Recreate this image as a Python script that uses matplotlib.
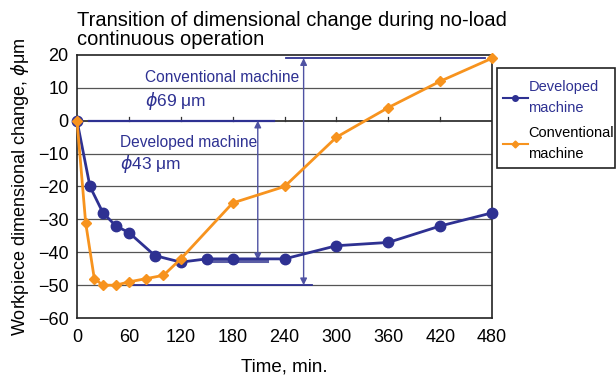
import matplotlib
matplotlib.use("Agg")
import matplotlib.pyplot as plt
from matplotlib.patches import Rectangle

plt.rcParams['font.family'] = ['Liberation Sans', 'DejaVu Sans']
plt.rcParams['mathtext.fontset'] = 'dejavusans'

# Data
dev_t = [0, 15, 30, 45, 60, 90, 120, 150, 180, 240, 300, 360, 420, 480]
dev_v = [0, -20, -28, -32, -34, -41, -43, -42, -42, -42, -38, -37, -32, -28]
conv_t = [0, 10, 20, 30, 45, 60, 80, 100, 120, 180, 240, 300, 360, 420, 480]
conv_v = [0, -31, -48, -50, -50, -49, -48, -47, -42, -25, -20, -5, 4, 12, 19]
xticks = [0, 60, 120, 180, 240, 300, 360, 420, 480]
yticks = [20, 10, 0, -10, -20, -30, -40, -50, -60]

BLUE = '#2e3192'
ORANGE = '#f7931e'
ARROW = '#4f52a3'

fig = plt.figure(figsize=(6.16, 3.76), dpi=100)
ax = fig.add_axes([0.125, 0.154, 0.674, 0.700])

ax.set_xlim(0, 480)
ax.set_ylim(-60, 20)
ax.set_xticks(xticks)
ax.set_yticks(yticks)
ax.set_xticklabels([str(t) for t in xticks])
ax.set_yticklabels([str(v).replace('-', '\u2212') for v in yticks])
ax.tick_params(axis='both', length=0, labelsize=13)
ax.tick_params(axis='x', pad=8)
ax.tick_params(axis='y', pad=6)
for s in ax.spines.values():
    s.set_color('#222222')
    s.set_linewidth(1.2)

# horizontal grid
for v in yticks[1:-1]:
    ax.axhline(v, color='#333333' if v == 0 else '#555555',
               lw=1.3 if v == 0 else 0.9, zorder=1)
# small tick marks on the zero line
for t in xticks[1:-1]:
    ax.plot([t, t], [0, 1.2], color='#333333', lw=0.9, zorder=1)

# annotation lines (developed)
ax.plot([14, 228], [0, 0], color=BLUE, lw=1.6, zorder=2)
ax.plot([150, 220], [-42.6, -42.6], color='#5b5ea6', lw=2.2, zorder=2)
ax.annotate('', xy=(209, 0), xytext=(209, -42.4),
            arrowprops=dict(arrowstyle='<|-|>', color=ARROW, lw=1.0,
                            mutation_scale=10, shrinkA=0, shrinkB=0), zorder=2)
# annotation lines (conventional)
ax.plot([242, 472], [19, 19], color=BLUE, lw=1.3, zorder=2)
ax.plot([59, 272], [-50, -50], color=BLUE, lw=1.3, zorder=2)
ax.annotate('', xy=(262, 19), xytext=(262, -50),
            arrowprops=dict(arrowstyle='<|-|>', color=ARROW, lw=1.0,
                            mutation_scale=10, shrinkA=0, shrinkB=0), zorder=2)

ax.text(79, 13, 'Conventional machine', color=BLUE, fontsize=11.2,
        ha='left', va='center')
ax.text(79, 6.0, r'$\phi$69 ' + '\u03bcm', color=BLUE,
        fontsize=12.5, ha='left', va='center')
ax.text(50, -6.6, 'Developed machine', color=BLUE, fontsize=11.2,
        ha='left', va='center')
ax.text(50, -13.2, r'$\phi$43 ' + '\u03bcm', color=BLUE, fontsize=12.5,
        ha='left', va='center')

ax.plot(dev_t, dev_v, color=BLUE, lw=2.0, marker='o', ms=7.5,
        zorder=4, clip_on=False)
ax.plot(conv_t, conv_v, color=ORANGE, lw=2.0, marker='D', ms=5.5,
        zorder=5, clip_on=False)

ax.set_xlabel('Time, min.', fontsize=13.5, labelpad=9)
ax.set_ylabel('Workpiece dimensional change, ' + r'$\phi$' + '\u03bcm',
              fontsize=13, labelpad=5)
ax.set_title('Transition of dimensional change during no-load\ncontinuous operation',
             loc='left', fontsize=14.5, pad=7, linespacing=1.0)

# legend frame
fig.patches.append(Rectangle((0.8068, 0.5532), 0.1916, 0.266,
                             transform=fig.transFigure, fill=False,
                             edgecolor='#222222', lw=1.2))

h1, = ax.plot([], [], color=BLUE, lw=1.5, marker='o', ms=4)
h2, = ax.plot([], [], color=ORANGE, lw=1.5, marker='D', ms=3.5)
leg = fig.legend([h1, h2], ['Developed\nmachine', 'Conventional\nmachine'],
                 loc='upper left', bbox_to_anchor=(0.8166, 0.787),
                 prop={'size': 10.5}, frameon=False,
                 handlelength=1.7, handletextpad=0.05, borderaxespad=0,
                 borderpad=0.0, labelspacing=0.75)
for t in leg.get_texts():
    t.set_linespacing(1.65)
leg.get_texts()[0].set_color(BLUE)

fig.savefig('out.png', dpi=100)
